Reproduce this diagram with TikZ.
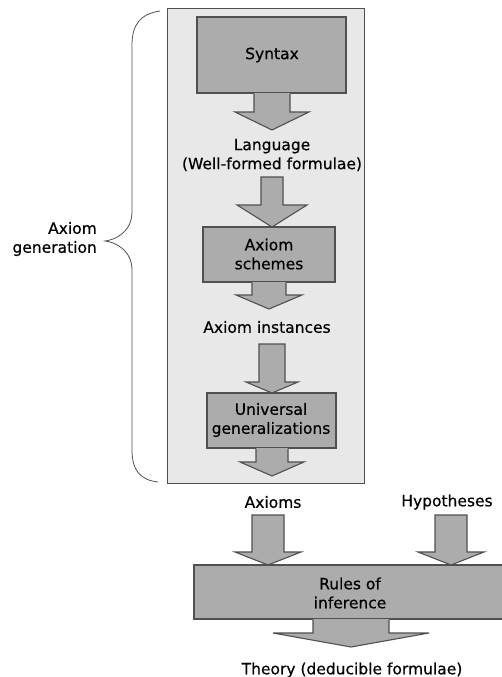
\documentclass[tikz,border=0pt]{standalone}
\usepackage{fontspec}
\setmainfont{DejaVu Sans}[FakeBold=0.5]
\definecolor{boxfill}{HTML}{ACACAC}
\definecolor{panelfill}{HTML}{E8E8E8}
\definecolor{edge}{HTML}{505050}
\tikzset{
  boxstyle/.style={draw=edge, fill=boxfill, line width=1.1pt},
  lbl/.style={inner sep=0pt, align=center, font=\fontsize{15.5}{19}\selectfont},
  arrfill/.style={fill=boxfill},
  arrline/.style={draw=edge, line width=1.1pt, line join=miter},
}
% block arrow hanging from a box: cx, top, shaft end, tip, shaft half width, head half width
\newcommand{\hangarrow}[6]{%
  \fill[arrfill] ({#1-#5},#2) -- ({#1-#5},#3) -- ({#1-#6},#3) -- (#1,#4) -- ({#1+#6},#3) -- ({#1+#5},#3) -- ({#1+#5},#2) -- cycle;
  \draw[arrline] ({#1-#5},{#2+0.55}) -- ({#1-#5},#3) -- ({#1-#6},#3) -- (#1,#4) -- ({#1+#6},#3) -- ({#1+#5},#3) -- ({#1+#5},{#2+0.55});}
% free standing block arrow
\newcommand{\freearrow}[6]{%
  \filldraw[arrfill, arrline] ({#1-#5},#2) -- ({#1-#5},#3) -- ({#1-#6},#3) -- (#1,#4) -- ({#1+#6},#3) -- ({#1+#5},#3) -- ({#1+#5},#2) -- cycle;}
\begin{document}
\begin{tikzpicture}[x=1pt, y=-1pt]
\useasboundingbox (0,0) rectangle (501,677);
% panel
\filldraw[fill=panelfill, draw=edge, line width=0.9pt] (167,8) rectangle (364,483);
% brace
\draw[edge, line width=0.8pt] (160,11) .. controls (140,14) and (132,25) .. (132,45) -- (132,212) .. controls (132,232) and (115,240) .. (105,241) .. controls (115,242) and (132,250) .. (132,270) -- (132,450) .. controls (132,470) and (140,480) .. (158,482);
\node[lbl, anchor=east, align=right] (gen) at (97,239) {Axiom\\generation};
% boxes
\draw[boxstyle] (197,17) rectangle (346,93);
\node[lbl] (syntax) at (272,55) {Syntax};
\hangarrow{272}{93}{112}{130}{18}{37}
\node[lbl] (lang) at (272,155) {Language\\(Well-formed formulae)};
\freearrow{272}{177}{205}{227}{11}{35}
\draw[boxstyle] (203,227) rectangle (335,282);
\node[lbl] (schemes) at (269,254) {Axiom\\schemes};
\hangarrow{269}{282}{295}{309}{17}{33}
\node[lbl] (inst) at (267,327) {Axiom instances};
\freearrow{272}{344}{382}{393}{13}{26}
\draw[boxstyle] (207,393) rectangle (336,448);
\node[lbl] (univ) at (271,420) {Universal\\generalizations};
\hangarrow{272}{448}{462}{476}{16}{32}
\node[lbl] (axioms) at (273,502) {Axioms};
\node[lbl] (hyp) at (447,502) {Hypotheses};
\freearrow{268}{515}{552}{565}{16}{33}
\freearrow{451}{515}{552}{565}{16}{33}
\draw[boxstyle] (194,565) rectangle (505,619);
\node[lbl] (rules) at (350,593) {Rules of\\inference};
\hangarrow{351}{619}{633}{647}{38}{78}
\node[lbl] (theory) at (352,670) {Theory (deducible formulae)};
\end{tikzpicture}
\end{document}
